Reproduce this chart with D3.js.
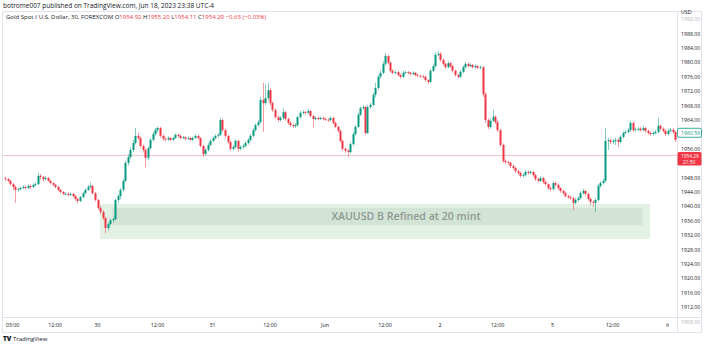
<!DOCTYPE html>
<html><head><meta charset="utf-8">
<script src="https://cdn.jsdelivr.net/npm/d3@7"></script>
<style>body{margin:0;background:#fff;}svg{display:block;font-family:"Open Sans",Arial,sans-serif;}</style>
</head><body><svg id="c" width="704" height="346"></svg>
<script>
// ---- data ----
const closes = [1947.7,1947.2,1946.3,1945.5,1944.7,1944.9,1945.2,1945.5,1945.2,1945.8,
1945.5,1946.1,1946.3,1948.6,1948.3,1947.7,1948.0,1947.2,1946.6,1946.1,
1945.5,1944.7,1944.1,1943.6,1943.6,1943.3,1943.6,1943.0,1942.2,1941.6,
1942.7,1943.8,1944.7,1945.5,1945.8,1943.8,1941.9,1939.7,1938.6,1936.9,
1934.1,1935.2,1936.3,1936.6,1941.9,1943.0,1944.7,1947.2,1952.2,1953.8,
1955.8,1957.7,1959.7,1959.1,1956.9,1955.8,1953.6,1956.3,1958.6,1960.2,
1961.3,1961.9,1959.7,1958.9,1958.7,1959.1,1958.6,1959.1,1960.0,1959.7,
1959.1,1959.3,1958.9,1959.1,1958.6,1959.1,1959.7,1959.1,1956.9,1954.7,
1955.8,1957.2,1958.3,1959.1,1959.7,1960.0,1964.1,1961.3,1959.7,1958.0,
1956.1,1956.6,1958.3,1956.1,1956.6,1956.9,1957.7,1958.6,1959.7,1961.3,
1962.7,1963.5,1969.7,1968.8,1970.2,1972.4,1968.8,1966.9,1964.9,1964.1,
1964.7,1966.3,1964.4,1963.3,1962.7,1962.4,1962.7,1964.9,1966.1,1966.3,
1966.1,1966.6,1965.2,1964.4,1964.7,1964.4,1964.7,1964.4,1964.2,1964.1,
1964.7,1963.3,1962.2,1961.1,1958.3,1956.1,1955.6,1955.2,1957.4,1960.2,
1962.2,1965.6,1967.4,1967.7,1960.5,1967.7,1968.3,1971.1,1973.0,1976.1,
1977.2,1979.7,1981.9,1980.0,1977.8,1977.2,1977.4,1976.6,1976.1,1977.2,
1977.4,1977.2,1976.9,1977.2,1976.6,1976.4,1976.2,1976.1,1975.2,1974.7,
1977.8,1979.1,1982.2,1982.5,1980.8,1979.7,1978.8,1979.9,1979.1,1977.8,
1976.6,1976.1,1977.5,1978.8,1979.7,1979.1,1979.4,1978.8,1979.1,1978.6,
1978.8,1971.3,1964.1,1962.2,1963.9,1965.0,1963.5,1961.3,1957.2,1952.7,
1952.4,1952.2,1951.3,1950.8,1949.9,1949.4,1948.6,1948.8,1949.7,1949.4,
1949.7,1948.8,1947.7,1947.2,1948.0,1946.9,1946.3,1945.2,1944.9,1946.6,
1946.1,1945.2,1944.4,1943.8,1943.0,1942.7,1942.4,1941.1,1941.9,1942.4,
1943.8,1944.4,1943.6,1942.2,1941.4,1941.1,1941.9,1945.8,1946.6,1947.2,
1958.3,1958.5,1958.0,1958.3,1958.6,1958.0,1959.4,1960.5,1960.8,1961.3,
1963.3,1961.3,1961.5,1961.7,1961.3,1961.9,1961.1,1960.5,1960.2,1960.5,
1960.8,1962.5,1961.7,1961.1,1960.2,1961.1,1961.4,1960.8,1958.6];
const highs = [1948.4,1948.0,1947.5,1946.6,1945.9,1945.4,1945.6,1946.0,1945.9,1946.3,
1946.2,1946.5,1946.9,1949.5,1949.1,1948.6,1948.5,1948.3,1947.5,1946.9,
1946.4,1945.8,1945.0,1944.4,1944.0,1944.1,1944.0,1943.8,1943.3,1942.5,
1943.0,1944.2,1945.1,1946.1,1946.8,1946.1,1944.1,1942.2,1940.1,1939.0,
1937.2,1935.7,1936.8,1937.2,1942.3,1943.5,1945.2,1947.8,1952.8,1954.6,
1956.5,1958.6,1961.9,1960.6,1959.5,1957.3,1956.2,1956.8,1959.1,1960.8,
1961.8,1962.3,1962.2,1960.1,1959.3,1959.6,1959.4,1959.5,1960.4,1960.3,
1960.0,1959.7,1959.6,1959.5,1959.4,1959.5,1960.2,1960.0,1959.4,1957.2,
1956.3,1957.7,1958.8,1959.5,1960.1,1960.5,1964.7,1964.4,1961.7,1960.0,
1958.3,1957.1,1958.8,1958.6,1957.1,1957.4,1958.2,1959.1,1960.2,1961.8,
1963.2,1964.1,1970.5,1974.4,1974.0,1974.4,1972.9,1969.3,1967.3,1965.3,
1965.2,1967.4,1966.7,1964.8,1963.7,1963.0,1963.2,1965.4,1966.6,1966.8,
1966.7,1967.2,1966.9,1965.5,1965.1,1965.0,1965.1,1965.0,1964.8,1964.6,
1965.1,1965.0,1963.6,1962.5,1961.4,1958.7,1956.5,1956.0,1957.9,1960.7,
1962.7,1966.1,1967.9,1968.3,1968.0,1968.2,1968.9,1971.7,1974.4,1976.7,
1977.9,1980.4,1982.7,1982.3,1980.4,1978.2,1977.9,1977.8,1977.0,1977.7,
1977.8,1977.7,1977.5,1977.6,1977.5,1976.9,1976.7,1976.6,1976.4,1975.5,
1978.3,1979.7,1983.0,1983.2,1982.9,1981.2,1980.1,1980.4,1980.2,1979.4,
1978.1,1977.0,1978.0,1979.3,1980.2,1980.1,1979.9,1979.7,1979.6,1979.4,
1979.3,1979.1,1971.8,1964.6,1964.6,1966.9,1965.4,1963.9,1961.7,1957.6,
1953.1,1952.8,1952.6,1951.7,1951.1,1950.3,1949.8,1949.3,1950.2,1950.1,
1950.2,1950.0,1949.2,1948.1,1948.5,1948.3,1947.3,1946.6,1945.6,1947.1,
1947.0,1946.4,1945.5,1944.8,1944.2,1943.4,1943.1,1942.8,1942.4,1942.9,
1944.3,1945.0,1944.8,1943.9,1942.6,1941.8,1942.4,1946.3,1947.1,1947.8,
1961.9,1959.2,1958.9,1958.9,1959.1,1959.0,1959.9,1961.0,1961.3,1961.9,
1963.9,1963.7,1962.0,1962.2,1962.1,1962.4,1962.2,1961.5,1960.9,1961.0,
1961.3,1964.7,1962.9,1962.1,1961.5,1961.6,1961.9,1961.8,1961.1];
const lows = [1947.2,1946.8,1945.9,1944.6,1941.1,1944.2,1944.6,1944.9,1944.8,1944.9,
1945.0,1945.2,1945.7,1946.0,1947.5,1947.0,1947.3,1946.9,1946.2,1945.7,
1945.1,1944.3,1943.7,1943.2,1943.2,1942.9,1943.0,1942.6,1941.8,1941.0,
1941.3,1942.4,1943.5,1944.4,1945.1,1943.4,1941.5,1939.2,1937.9,1936.3,
1932.7,1933.4,1934.8,1935.6,1936.2,1941.0,1942.1,1944.2,1946.9,1951.5,
1953.3,1955.2,1957.3,1958.5,1956.4,1955.1,1951.0,1953.0,1955.9,1958.1,
1959.8,1960.7,1959.2,1958.4,1958.2,1958.3,1958.2,1958.3,1958.8,1959.3,
1958.8,1958.8,1958.5,1958.6,1958.2,1958.3,1958.8,1958.7,1956.4,1953.8,
1954.2,1955.4,1956.8,1957.9,1958.7,1959.3,1959.7,1960.8,1959.2,1957.5,
1955.5,1955.6,1956.2,1955.3,1955.7,1956.1,1956.5,1957.3,1958.2,1959.3,
1960.9,1962.3,1963.2,1960.8,1968.2,1969.6,1968.2,1966.3,1964.4,1963.6,
1963.7,1964.2,1963.9,1962.8,1962.2,1961.9,1961.9,1962.3,1964.5,1965.7,
1965.6,1965.7,1964.8,1962.0,1964.0,1964.0,1964.1,1964.0,1963.8,1963.6,
1963.7,1962.9,1961.8,1960.6,1957.8,1955.6,1955.0,1953.8,1954.8,1957.0,
1959.8,1961.8,1965.2,1967.0,1960.0,1960.2,1967.2,1967.9,1970.4,1972.6,
1975.6,1976.8,1979.2,1979.5,1977.3,1976.8,1976.8,1976.2,1975.7,1975.8,
1976.9,1976.8,1976.5,1976.6,1976.2,1976.0,1975.8,1975.7,1974.8,1974.1,
1974.4,1977.4,1978.7,1981.8,1980.3,1979.2,1978.3,1978.5,1978.6,1977.3,
1976.1,1975.6,1975.8,1977.1,1978.4,1978.7,1978.8,1978.4,1978.4,1978.2,
1978.2,1970.5,1963.3,1961.5,1961.7,1963.5,1963.0,1960.8,1956.7,1952.2,
1951.9,1951.7,1950.8,1950.3,1949.4,1948.9,1948.1,1948.2,1948.4,1948.9,
1949.0,1948.3,1947.2,1946.7,1946.9,1946.4,1945.8,1944.7,1944.3,1944.5,
1945.6,1944.7,1943.9,1943.3,1942.5,1942.2,1941.9,1939.1,1940.6,1941.4,
1942.0,1943.4,1943.1,1941.7,1940.5,1940.0,1938.6,1941.5,1945.3,1946.1,
1946.8,1955.8,1957.4,1957.4,1957.2,1956.6,1957.6,1959.0,1960.1,1960.4,
1960.9,1960.8,1960.9,1961.1,1960.9,1960.9,1960.6,1960.0,1959.7,1959.8,
1960.1,1960.4,1961.2,1960.6,1959.7,1959.8,1960.8,1960.3,1958.0];
const firstOpen = 1947.9;
// tick labels visible on the price scale (1952/1960 are hidden behind the price labels)
const priceTicks = [1908,1912,1916,1920,1924,1928,1932,1936,1940,1944,1948,1956,1964,1968,1972,1976,1980,1984,1988,1992];
const timeLabels = ["03:00","12:00","30","12:00","31","12:00","Jun","12:00","2","12:00","5","12:00","6"];
const timeLabelIdx = [3,20,37,61,83,106,128,152,174,197,219,243,265];
const zoneOuter = [1940.8, 1931.1];   // price top/bottom
const zoneInner = [1939.7, 1934.9];
const zoneIdx = [38, 258];            // candle index start/end (outer)
const zoneInnerIdx = [43, 255];
const zoneText = "XAUUSD B Refined at 20 mint";
const lastPrice = 1954.29, lastTimer = "21:50";
const markPrice = 1960.56;
const headerTop = "botrome007 published on TradingView.com, Jun 18, 2023 23:38 UTC-4";
const symbolTitle = "Gold Spot / U.S. Dollar, 30, FOREXCOM";
const ohlcLabels = ["O","H","L","C"];
const ohlcVals = ["1954.92","1955.20","1954.11","1954.29"];
const changeText = "\u22120.63 (\u22120.03%)";

// ---- layout ----
const svg = d3.select("#c");
const W = 704, H = 346;
const plot = {l: 2, r: 677, t: 11, b: 317};
const GREEN = "#089981", RED = "#f23645", TXT = "#131722";

const data = closes.map((c, i) => ({
  i, o: i === 0 ? firstOpen : closes[i-1], c, h: highs[i], l: lows[i]
}));

const x = d3.scaleLinear().domain([0, closes.length - 1]).range([5, 5 + 2.5*(closes.length-1)]);
const y = d3.scaleLinear().domain([1912, 1988]).range([307.6, 34]);

svg.append("rect").attr("width", W).attr("height", H).attr("fill", "#fff");

// header
svg.append("text").attr("x", 3).attr("y", 8).attr("font-size", 6.5).attr("fill", TXT).text(headerTop);

// frame
svg.append("rect").attr("x", 2.5).attr("y", 11.5).attr("width", 699).attr("height", 321)
  .attr("fill", "none").attr("stroke", "#e0e3eb");

svg.append("clipPath").attr("id", "pc").append("rect")
  .attr("x", plot.l + 1).attr("y", plot.t + 1).attr("width", plot.r - plot.l - 1).attr("height", plot.b - plot.t - 1);
const g = svg.append("g").attr("clip-path", "url(#pc)");

// zone
g.append("rect").attr("x", x(zoneIdx[0])).attr("width", x(zoneIdx[1]) - x(zoneIdx[0]))
  .attr("y", y(zoneOuter[0])).attr("height", y(zoneOuter[1]) - y(zoneOuter[0]))
  .attr("fill", "#e3f1e5");
g.append("rect").attr("x", x(zoneInnerIdx[0])).attr("width", x(zoneInnerIdx[1]) - x(zoneInnerIdx[0]))
  .attr("y", y(zoneInner[0])).attr("height", y(zoneInner[1]) - y(zoneInner[0]))
  .attr("fill", "#d2e4d6");
g.append("text").attr("x", 406)
  .attr("y", (y(zoneInner[0]) + y(zoneInner[1])) / 2 + 3.8)
  .attr("text-anchor", "middle").attr("font-size", 10.6).attr("font-weight", 600)
  .attr("fill", "#8e9892").text(zoneText);

// last price line
g.append("line").attr("x1", plot.l).attr("x2", plot.r).attr("y1", Math.round(y(lastPrice)) + 0.5).attr("y2", Math.round(y(lastPrice)) + 0.5)
  .attr("stroke", "#f7b5bb").attr("stroke-width", 0.8);

// candles
const cg = g.append("g");
cg.selectAll("line.w").data(data).join("line").attr("class", "w")
  .attr("x1", d => Math.round(x(d.i)) + 0.5).attr("x2", d => Math.round(x(d.i)) + 0.5)
  .attr("y1", d => y(d.h)).attr("y2", d => y(d.l))
  .attr("stroke", d => d.c >= d.o ? GREEN : RED).attr("stroke-opacity", 0.5).attr("stroke-width", 1);
cg.selectAll("rect.b").data(data).join("rect").attr("class", "b")
  .attr("x", d => Math.round(x(d.i)) - 0.5).attr("width", 2)
  .attr("y", d => y(Math.max(d.o, d.c)))
  .attr("height", d => Math.max(0.8, Math.abs(y(d.o) - y(d.c))))
  .attr("fill", d => d.c >= d.o ? GREEN : RED);

// symbol title line
const tl = svg.append("text").attr("x", 6).attr("y", 18.5).attr("font-size", 6).attr("fill", TXT);
tl.append("tspan").text(symbolTitle + "  ");
ohlcLabels.forEach((k, j) => {
  tl.append("tspan").attr("fill", TXT).text(k);
  tl.append("tspan").attr("fill", RED).text(ohlcVals[j] + " ");
});
tl.append("tspan").attr("fill", RED).text(" " + changeText);

// right axis
svg.append("line").attr("x1", plot.r + 0.5).attr("x2", plot.r + 0.5).attr("y1", plot.t).attr("y2", 333).attr("stroke", "#e0e3eb");
svg.append("line").attr("x1", plot.l).attr("x2", 702).attr("y1", plot.b + 0.5).attr("y2", plot.b + 0.5).attr("stroke", "#e0e3eb");
svg.append("g").selectAll("text").data(priceTicks).join("text")
  .attr("x", 681).attr("y", d => y(d) + 1.6).attr("font-size", 5.2)
  .attr("fill", d => (d === 1992 || d === 1908 ? "#b2b5be" : TXT)).text(d => d.toFixed(2));
svg.append("text").attr("x", 681).attr("y", 13.8).attr("font-size", 5.2).attr("fill", TXT).text("USD");

// mark price label (green outline)
const my = y(markPrice);
svg.append("rect").attr("x", 677.5).attr("y", my - 4.5).attr("width", 24).attr("height", 9).attr("rx", 1.5)
  .attr("fill", "#fff").attr("stroke", GREEN).attr("stroke-width", 0.8);
svg.append("text").attr("x", 681).attr("y", my + 2).attr("font-size", 5.2).attr("fill", GREEN).text(markPrice.toFixed(2));

// last price label (red)
const ly = y(lastPrice);
svg.append("rect").attr("x", 677.5).attr("y", ly - 3.3).attr("width", 24).attr("height", 13.5).attr("rx", 1.5).attr("fill", RED);
svg.append("text").attr("x", 681).attr("y", ly + 2.4).attr("font-size", 4.8).attr("fill", "#fff").text(lastPrice.toFixed(2));
svg.append("text").attr("x", 683).attr("y", ly + 8.8).attr("font-size", 4.8).attr("fill", "#fff").text(lastTimer);

// time axis
svg.append("g").selectAll("text").data(timeLabels).join("text")
  .attr("x", (d, k) => x(timeLabelIdx[k])).attr("y", 327).attr("text-anchor", "middle")
  .attr("font-size", 5.4).attr("fill", TXT).text(d => d);

// footer logo
const fg = svg.append("g").attr("transform", "translate(3,336)");
fg.append("text").attr("x", 0).attr("y", 4.5).attr("font-size", 6.5).attr("font-weight", 800).attr("fill", TXT).text("TV");
fg.append("text").attr("x", 10).attr("y", 4.5).attr("font-size", 6).attr("fill", TXT).text("TradingView");
</script></body></html>
